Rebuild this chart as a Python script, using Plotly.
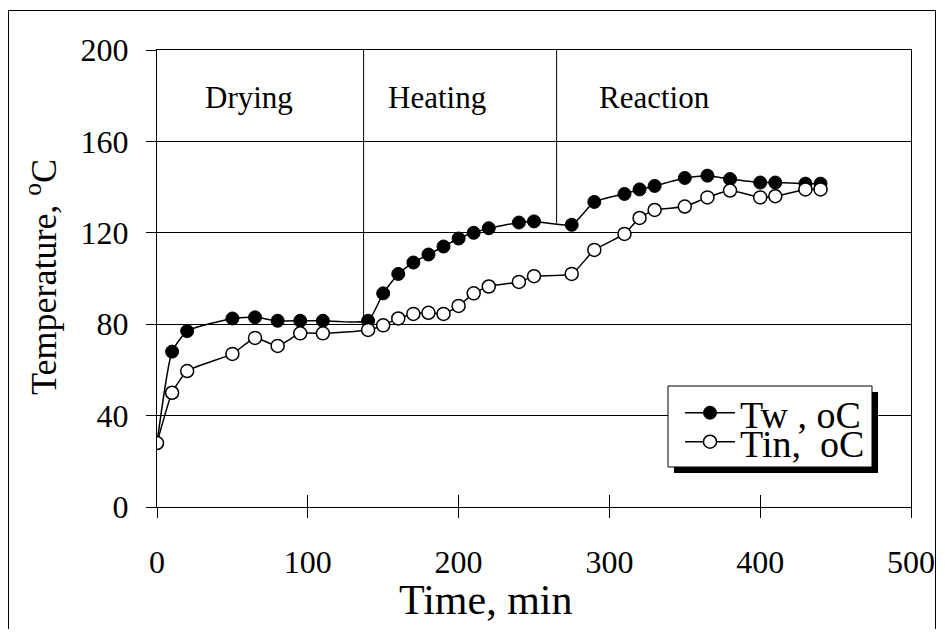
import numpy as np
import plotly.graph_objects as go

# ---- data ----
time_min = [0, 10, 20, 50, 65, 80, 95, 110, 140, 150, 160, 170, 180, 190, 200,
            210, 220, 240, 250, 275, 290, 310, 320, 330, 350, 365, 380, 400,
            410, 430, 440]
tw_c = [28, 68, 77, 82.5, 83, 81.5, 81.5, 81.5, 81.5, 93.5, 102, 107, 110.5,
        114, 117.5, 120, 122, 124.5, 125, 123.5, 133.5, 137, 139, 140.5, 144,
        145, 143.5, 142, 142, 141.5, 141.5]
tin_c = [28, 50, 59.5, 67, 74, 70.5, 76, 76, 77.5, 79.5, 82.5, 84.5, 85, 84.5,
         88, 93.5, 96.5, 98.5, 101, 102, 112.5, 119.5, 126.5, 130, 131.5,
         135.5, 138.5, 135.5, 136, 139, 139]

phase_bounds = [137, 265]
phase_names = ["Drying", "Heating", "Reaction"]
phase_label_x = [61, 186, 330]
phase_label_y = 179

x_ticks = [0, 100, 200, 300, 400, 500]
y_ticks = [0, 40, 80, 120, 160, 200]

FONT = "Liberation Serif, Times New Roman, serif"

# page geometry (the page body has an 8px margin)
OFF = 8
W, H = 929, 621
L, T = 149, 42
R = W - (911 - OFF)
B = H - (507 - OFF)
pw, ph = W - L - R, H - T - B


def px2paper_x(px):
    return (px - OFF - L) / pw


def px2paper_y(py):
    return (H - B - (py - OFF)) / ph


fig = go.Figure()

fig.add_trace(go.Scatter(
    x=time_min, y=tw_c, name="Tw\u00a0, oC", mode="lines+markers",
    legend="legend",
    line=dict(color="black", width=1.5, shape="spline", smoothing=0.5),
    marker=dict(symbol="circle", size=13, color="black",
                line=dict(color="black", width=1)),
))
fig.add_trace(go.Scatter(
    x=time_min, y=tin_c, name="Tin,\u00a0\u00a0oC", mode="lines+markers",
    legend="legend2",
    line=dict(color="black", width=1.5, shape="spline", smoothing=0.5),
    marker=dict(symbol="circle", size=13, color="white",
                line=dict(color="black", width=1.5)),
))
# invisible trace to carry the inside-tick overlay axis
fig.add_trace(go.Scatter(x=[x_ticks[0], x_ticks[-1]], y=[y_ticks[0], y_ticks[0]],
                         xaxis="x2", mode="markers", marker=dict(opacity=0),
                         showlegend=False, hoverinfo="skip"))

# phase boundary lines from the top down to the Tw curve
for b in phase_bounds:
    yb = float(np.interp(b, time_min, tw_c))
    fig.add_shape(type="line", xref="x", yref="y", x0=b, x1=b, y0=yb,
                  y1=y_ticks[-1], line=dict(color="black", width=1))

for name, px in zip(phase_names, phase_label_x):
    fig.add_annotation(x=px, y=phase_label_y, xref="x", yref="y", text=name,
                       showarrow=False, font=dict(family=FONT, size=31, color="black"))

# outer frame
fig.add_shape(type="rect", xref="paper", yref="paper",
              x0=px2paper_x(8.5), x1=px2paper_x(OFF + W - 1.5),
              y0=px2paper_y(660), y1=px2paper_y(10.5),
              line=dict(color="black", width=1), fillcolor="rgba(0,0,0,0)")

# legend box with shadow
lx0, ly0, lx1, ly1 = 668, 386, 872, 467
fig.add_shape(type="rect", xref="paper", yref="paper",
              x0=px2paper_x(lx0 + 6), x1=px2paper_x(lx1 + 6),
              y0=px2paper_y(ly1 + 6), y1=px2paper_y(ly0 + 6),
              line=dict(color="black", width=0), fillcolor="black", layer="above")
fig.add_shape(type="rect", xref="paper", yref="paper",
              x0=px2paper_x(lx0), x1=px2paper_x(lx1),
              y0=px2paper_y(ly1), y1=px2paper_y(ly0),
              line=dict(color="black", width=1), fillcolor="white", layer="above")

# axis titles
fig.add_annotation(x=px2paper_x(486), y=px2paper_y(600), xref="paper", yref="paper",
                   xanchor="center", yanchor="middle",
                   text="Time, min", showarrow=False,
                   font=dict(family=FONT, size=42, color="black"))
fig.add_annotation(x=px2paper_x(41), y=px2paper_y(277), xref="paper", yref="paper",
                   xanchor="center", yanchor="middle",
                   text="Temperature, <sup>o</sup>C", showarrow=False, textangle=-90,
                   font=dict(family=FONT, size=36, color="black"))

leg_common = dict(xanchor="left", yanchor="middle", bgcolor="rgba(0,0,0,0)",
                  borderwidth=0, font=dict(family=FONT, size=38, color="black"),
                  itemwidth=50)

fig.update_layout(
    width=W, height=H,
    margin=dict(l=L, r=R, t=T, b=B, autoexpand=False),
    paper_bgcolor="white", plot_bgcolor="white",
    font=dict(family=FONT, color="black", size=32),
    showlegend=True,
    legend=dict(x=px2paper_x(680), y=px2paper_y(413), **leg_common),
    legend2=dict(x=px2paper_x(680), y=px2paper_y(442), **leg_common),
    xaxis=dict(range=[x_ticks[0], x_ticks[-1]], tickvals=x_ticks, automargin=False,
               showline=True, linecolor="black", linewidth=1, mirror=True,
               ticks="outside", ticklen=10, tickcolor="black", tickwidth=1,
               showgrid=False, zeroline=False, ticklabelstandoff=17,
               tickfont=dict(size=32)),
    xaxis2=dict(range=[x_ticks[0], x_ticks[-1]], tickvals=x_ticks, automargin=False,
                overlaying="x", side="bottom", anchor="y",
                ticks="inside", ticklen=12, tickcolor="black", tickwidth=1,
                showticklabels=False, showgrid=False, zeroline=False, showline=False),
    yaxis=dict(range=[y_ticks[0], y_ticks[-1]], tickvals=y_ticks, automargin=False,
               showline=True, linecolor="black", linewidth=1, mirror=True,
               ticks="outside", ticklen=10, tickcolor="black", tickwidth=1,
               showgrid=True, gridcolor="black", gridwidth=1, zeroline=False,
               ticklabelstandoff=11, tickfont=dict(size=32)),
)

fig.write_html("out.html")
